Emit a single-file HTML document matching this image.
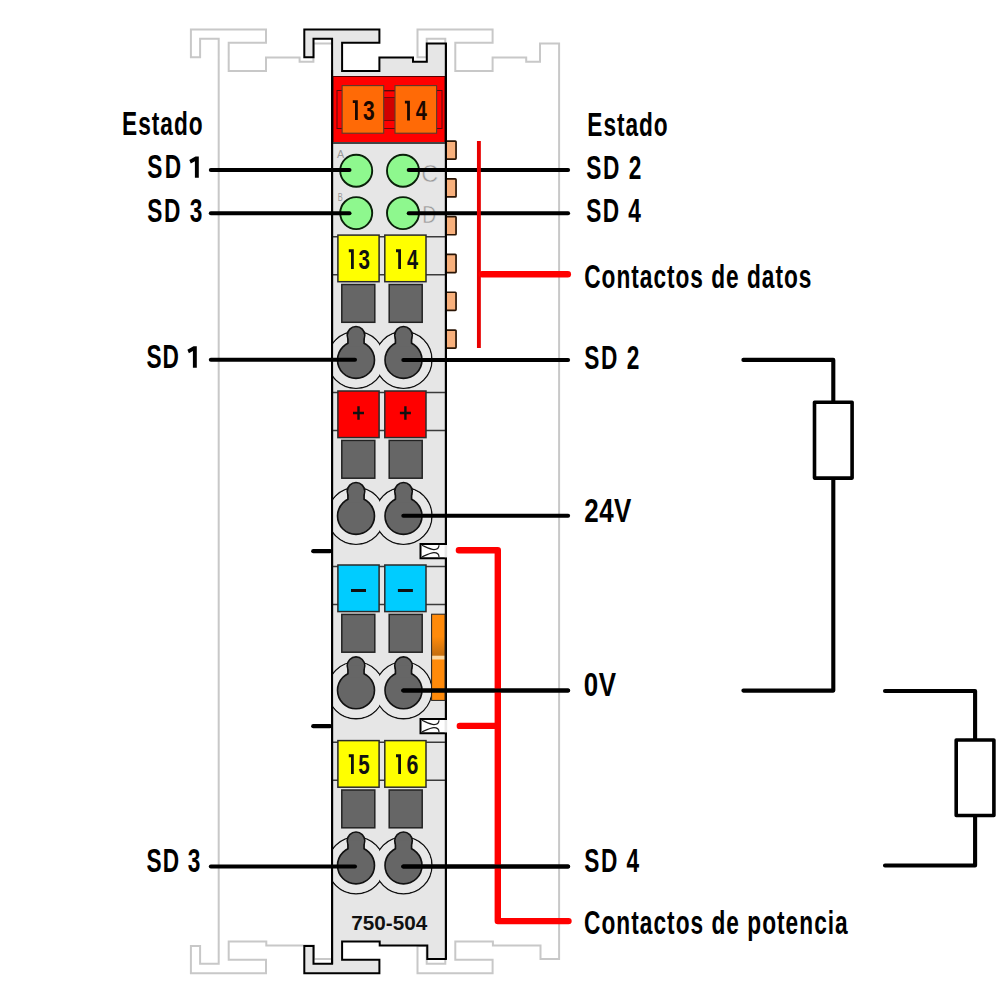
<!DOCTYPE html>
<html><head><meta charset="utf-8"><style>
html,body{margin:0;padding:0;background:#fff;}
svg{display:block;}
</style></head><body>
<svg width="1008" height="1007" viewBox="0 0 1008 1007">
<defs><linearGradient id="sl" x1="0" y1="0" x2="0" y2="1"><stop offset="0" stop-color="#ff8a0a"/><stop offset="0.26" stop-color="#ff8a0a"/><stop offset="0.46" stop-color="#c8700f"/><stop offset="0.475" stop-color="#c8700f"/><stop offset="0.49" stop-color="#ffd9a0"/><stop offset="0.515" stop-color="#ffd9a0"/><stop offset="0.535" stop-color="#ff8a0a"/><stop offset="1" stop-color="#ff8a0a"/></linearGradient><clipPath id="body"><rect x="332.1" y="40" width="113.8" height="925"/></clipPath></defs>
<rect width="1008" height="1007" fill="#fff"/>
<path d="M218.70 38.70 L200.10 38.70 L200.10 57.30 L190.90 57.30 L190.90 29.50 L266.00 29.50 L266.00 42.70 L228.70 42.70 L228.70 71.10 L266.00 71.10 L266.00 57.60 L299.60 57.60 L299.60 61.70 L313.40 61.70 L313.40 43.50 L332.50 43.50 L332.50 959.00 L313.90 959.00 L313.90 945.40 L266.30 945.40 L266.30 941.40 L228.70 941.40 L228.70 959.80 L266.00 959.80 L266.00 973.30 L190.90 973.30 L190.90 945.90 L200.10 945.90 L200.10 963.80 L218.70 963.80 Z" fill="#fff" stroke="#c8c8c8" stroke-width="2"/>
<path d="M445.30 38.70 L426.70 38.70 L426.70 57.30 L417.50 57.30 L417.50 29.50 L492.60 29.50 L492.60 42.70 L455.30 42.70 L455.30 71.10 L492.60 71.10 L492.60 57.60 L526.20 57.60 L526.20 61.70 L540.00 61.70 L540.00 43.50 L559.10 43.50 L559.10 959.00 L540.50 959.00 L540.50 945.40 L492.90 945.40 L492.90 941.40 L455.30 941.40 L455.30 959.80 L492.60 959.80 L492.60 973.30 L417.50 973.30 L417.50 945.90 L426.70 945.90 L426.70 963.80 L445.30 963.80 Z" fill="#fff" stroke="#c8c8c8" stroke-width="2"/>
<path d="M332.10 38.70 L313.50 38.70 L313.50 57.30 L304.30 57.30 L304.30 29.50 L379.40 29.50 L379.40 42.70 L342.10 42.70 L342.10 71.10 L379.40 71.10 L379.40 57.60 L413.00 57.60 L413.00 61.70 L426.80 61.70 L426.80 43.50 L445.90 43.50 L445.90 959.00 L427.30 959.00 L427.30 945.40 L379.70 945.40 L379.70 941.40 L342.10 941.40 L342.10 959.80 L379.40 959.80 L379.40 973.30 L304.30 973.30 L304.30 945.90 L313.50 945.90 L313.50 963.80 L332.10 963.80 Z" fill="#e6e6e6" stroke="#000" stroke-width="2"/>
<rect x="333.1" y="76.5" width="111.8" height="66" fill="#ff0000" stroke="#5a0000" stroke-width="1"/>
<line x1="333" y1="143" x2="445" y2="143" stroke="#444" stroke-width="2"/>
<rect x="337" y="90.5" width="105" height="38" fill="none" stroke="#5a0a0a" stroke-width="1"/>
<rect x="383.5" y="91" width="12" height="37.5" fill="#ff0000" stroke="#5a0a0a" stroke-width="0.8"/>
<rect x="383.5" y="97.5" width="12" height="23" fill="#d00000" stroke="#5a0a0a" stroke-width="0.8"/>
<rect x="342.1" y="85.6" width="41.6" height="47.6" fill="#ff6a06" stroke="#5a3a2a" stroke-width="1.1"/>
<rect x="395" y="85.6" width="41.6" height="47.6" fill="#ff6a06" stroke="#5a3a2a" stroke-width="1.1"/>
<path d="M352.80 100.20H357.80V119.90H355.00V103.10H352.80Z" fill="#1a0800"/>
<text x="362.88" y="119.60" font-size="28.5" font-weight="bold" fill="#1a0800" font-family="Liberation Sans" textLength="11.68" lengthAdjust="spacingAndGlyphs">3</text>
<path d="M404.90 100.70H409.90V120.40H407.10V103.60H404.90Z" fill="#1a0800"/>
<text x="415.80" y="120.10" font-size="28.5" font-weight="bold" fill="#1a0800" font-family="Liberation Sans" textLength="11.12" lengthAdjust="spacingAndGlyphs">4</text>
<circle cx="356.2" cy="170.7" r="16" fill="#8ef88e" stroke="#0a200a" stroke-width="1.9"/>
<circle cx="403" cy="170.7" r="16" fill="#8ef88e" stroke="#0a200a" stroke-width="1.9"/>
<circle cx="356.2" cy="213.1" r="16" fill="#8ef88e" stroke="#0a200a" stroke-width="1.9"/>
<circle cx="403" cy="213.1" r="16" fill="#8ef88e" stroke="#0a200a" stroke-width="1.9"/>
<text x="336.9" y="157.8" font-size="11" fill="#999" font-family="Liberation Sans" textLength="7.2" lengthAdjust="spacingAndGlyphs">A</text>
<text x="337.8" y="200.5" font-size="11" fill="#999" font-family="Liberation Sans" textLength="5" lengthAdjust="spacingAndGlyphs">B</text>
<text x="421.3" y="182.1" font-size="23.5" fill="#999" stroke="#e6e6e6" stroke-width="0.5" font-family="Liberation Sans">C</text>
<text x="422.2" y="223.4" font-size="23.5" fill="#999" stroke="#e6e6e6" stroke-width="0.5" font-family="Liberation Sans" textLength="14" lengthAdjust="spacingAndGlyphs">D</text>
<rect x="446" y="141.05" width="10.05" height="18.1" rx="0.8" fill="#f8b07c" stroke="#2a1505" stroke-width="1.7"/>
<rect x="446" y="178.85" width="10.05" height="18.1" rx="0.8" fill="#f8b07c" stroke="#2a1505" stroke-width="1.7"/>
<rect x="446" y="216.65" width="10.05" height="18.1" rx="0.8" fill="#f8b07c" stroke="#2a1505" stroke-width="1.7"/>
<rect x="446" y="254.45" width="10.05" height="18.1" rx="0.8" fill="#f8b07c" stroke="#2a1505" stroke-width="1.7"/>
<rect x="446" y="292.25" width="10.05" height="18.1" rx="0.8" fill="#f8b07c" stroke="#2a1505" stroke-width="1.7"/>
<rect x="446" y="330.05" width="10.05" height="18.1" rx="0.8" fill="#f8b07c" stroke="#2a1505" stroke-width="1.7"/>
<line x1="333" y1="236.70000000000002" x2="445" y2="236.70000000000002" stroke="#3a3a3a" stroke-width="1.5"/>
<line x1="333" y1="274.7" x2="445" y2="274.7" stroke="#3a3a3a" stroke-width="1.5"/>
<rect x="337.9" y="235.10000000000002" width="41.2" height="46.6" fill="#ffff00" stroke="#2a2a2a" stroke-width="1.5"/>
<path d="M348.80 249.30H353.80V269.00H351.00V252.20H348.80Z" fill="#111"/>
<text x="358.49" y="268.70" font-size="28.5" font-weight="bold" fill="#111" font-family="Liberation Sans" textLength="11.45" lengthAdjust="spacingAndGlyphs">3</text>
<rect x="384.8" y="235.10000000000002" width="41.2" height="46.6" fill="#ffff00" stroke="#2a2a2a" stroke-width="1.5"/>
<path d="M396.00 249.30H401.00V269.00H398.20V252.20H396.00Z" fill="#111"/>
<text x="406.90" y="268.70" font-size="28.5" font-weight="bold" fill="#111" font-family="Liberation Sans" textLength="11.12" lengthAdjust="spacingAndGlyphs">4</text>
<rect x="341.8" y="284.5" width="33" height="37.8" fill="#666666" stroke="#222" stroke-width="1.5"/>
<rect x="389.2" y="284.5" width="33" height="37.8" fill="#666666" stroke="#222" stroke-width="1.5"/>
<g clip-path="url(#body)">
<circle cx="356" cy="359.9" r="28.4" fill="#e8e8e8" stroke="#111" stroke-width="1.4"/>
<circle cx="403.5" cy="359.9" r="28.4" fill="#e8e8e8" stroke="#111" stroke-width="1.4"/>
<circle cx="356" cy="359.9" r="27.75" fill="#e8e8e8"/>
<circle cx="403.5" cy="359.9" r="27.75" fill="#e8e8e8"/>
</g>
<g stroke="#111" stroke-width="1.6"><circle cx="356" cy="359.9" r="18.5"/><circle cx="356" cy="335.29999999999995" r="8.8"/><path d="M347.9 335.29999999999995L347.9 346.9H364.1L364.1 335.29999999999995Z"/></g>
<g stroke="#111" stroke-width="1.6"><circle cx="403.5" cy="359.9" r="18.5"/><circle cx="403.5" cy="335.29999999999995" r="8.8"/><path d="M395.4 335.29999999999995L395.4 346.9H411.6L411.6 335.29999999999995Z"/></g>
<g fill="#666666"><circle cx="356" cy="359.9" r="17.7"/><circle cx="356" cy="335.29999999999995" r="8"/><path d="M348.7 335.29999999999995L348.7 346.9H363.3L363.3 335.29999999999995Z"/></g>
<g fill="#666666"><circle cx="403.5" cy="359.9" r="17.7"/><circle cx="403.5" cy="335.29999999999995" r="8"/><path d="M396.2 335.29999999999995L396.2 346.9H410.8L410.8 335.29999999999995Z"/></g>
<line x1="333" y1="392.59999999999997" x2="445" y2="392.59999999999997" stroke="#3a3a3a" stroke-width="1.5"/>
<line x1="333" y1="430.59999999999997" x2="445" y2="430.59999999999997" stroke="#3a3a3a" stroke-width="1.5"/>
<rect x="337.9" y="391.0" width="41.2" height="46.6" fill="#ff0000" stroke="#2a2a2a" stroke-width="1.5"/>
<path d="M353.0 413.0H364.0M358.5 406.2V419.7" stroke="#111" stroke-width="2.4"/>
<rect x="384.8" y="391.0" width="41.2" height="46.6" fill="#ff0000" stroke="#2a2a2a" stroke-width="1.5"/>
<path d="M399.90000000000003 413.0H410.90000000000003M405.40000000000003 406.2V419.7" stroke="#111" stroke-width="2.4"/>
<rect x="341.8" y="440.4" width="33" height="37.8" fill="#666666" stroke="#222" stroke-width="1.5"/>
<rect x="389.2" y="440.4" width="33" height="37.8" fill="#666666" stroke="#222" stroke-width="1.5"/>
<g clip-path="url(#body)">
<circle cx="356" cy="515.9" r="28.4" fill="#e8e8e8" stroke="#111" stroke-width="1.4"/>
<circle cx="403.5" cy="515.9" r="28.4" fill="#e8e8e8" stroke="#111" stroke-width="1.4"/>
<circle cx="356" cy="515.9" r="27.75" fill="#e8e8e8"/>
<circle cx="403.5" cy="515.9" r="27.75" fill="#e8e8e8"/>
</g>
<g stroke="#111" stroke-width="1.6"><circle cx="356" cy="515.9" r="18.5"/><circle cx="356" cy="491.29999999999995" r="8.8"/><path d="M347.9 491.29999999999995L347.9 502.9H364.1L364.1 491.29999999999995Z"/></g>
<g stroke="#111" stroke-width="1.6"><circle cx="403.5" cy="515.9" r="18.5"/><circle cx="403.5" cy="491.29999999999995" r="8.8"/><path d="M395.4 491.29999999999995L395.4 502.9H411.6L411.6 491.29999999999995Z"/></g>
<g fill="#666666"><circle cx="356" cy="515.9" r="17.7"/><circle cx="356" cy="491.29999999999995" r="8"/><path d="M348.7 491.29999999999995L348.7 502.9H363.3L363.3 491.29999999999995Z"/></g>
<g fill="#666666"><circle cx="403.5" cy="515.9" r="17.7"/><circle cx="403.5" cy="491.29999999999995" r="8"/><path d="M396.2 491.29999999999995L396.2 502.9H410.8L410.8 491.29999999999995Z"/></g>
<line x1="333" y1="566.6" x2="445" y2="566.6" stroke="#3a3a3a" stroke-width="1.5"/>
<line x1="333" y1="604.6" x2="445" y2="604.6" stroke="#3a3a3a" stroke-width="1.5"/>
<rect x="337.9" y="565.0" width="41.2" height="46.6" fill="#00ccff" stroke="#2a2a2a" stroke-width="1.5"/>
<path d="M351.0 590.5H366.0" stroke="#111" stroke-width="3"/>
<rect x="384.8" y="565.0" width="41.2" height="46.6" fill="#00ccff" stroke="#2a2a2a" stroke-width="1.5"/>
<path d="M397.90000000000003 590.5H412.90000000000003" stroke="#111" stroke-width="3"/>
<rect x="341.8" y="614.4000000000001" width="33" height="37.8" fill="#666666" stroke="#222" stroke-width="1.5"/>
<rect x="389.2" y="614.4000000000001" width="33" height="37.8" fill="#666666" stroke="#222" stroke-width="1.5"/>
<g clip-path="url(#body)">
<circle cx="356" cy="690.3" r="28.4" fill="#e8e8e8" stroke="#111" stroke-width="1.4"/>
<circle cx="403.5" cy="690.3" r="28.4" fill="#e8e8e8" stroke="#111" stroke-width="1.4"/>
<circle cx="356" cy="690.3" r="27.75" fill="#e8e8e8"/>
<circle cx="403.5" cy="690.3" r="27.75" fill="#e8e8e8"/>
</g>
<g stroke="#111" stroke-width="1.6"><circle cx="356" cy="690.3" r="18.5"/><circle cx="356" cy="665.6999999999999" r="8.8"/><path d="M347.9 665.6999999999999L347.9 677.3H364.1L364.1 665.6999999999999Z"/></g>
<g stroke="#111" stroke-width="1.6"><circle cx="403.5" cy="690.3" r="18.5"/><circle cx="403.5" cy="665.6999999999999" r="8.8"/><path d="M395.4 665.6999999999999L395.4 677.3H411.6L411.6 665.6999999999999Z"/></g>
<g fill="#666666"><circle cx="356" cy="690.3" r="17.7"/><circle cx="356" cy="665.6999999999999" r="8"/><path d="M348.7 665.6999999999999L348.7 677.3H363.3L363.3 665.6999999999999Z"/></g>
<g fill="#666666"><circle cx="403.5" cy="690.3" r="17.7"/><circle cx="403.5" cy="665.6999999999999" r="8"/><path d="M396.2 665.6999999999999L396.2 677.3H410.8L410.8 665.6999999999999Z"/></g>
<line x1="333" y1="742.1999999999999" x2="445" y2="742.1999999999999" stroke="#3a3a3a" stroke-width="1.5"/>
<line x1="333" y1="780.1999999999999" x2="445" y2="780.1999999999999" stroke="#3a3a3a" stroke-width="1.5"/>
<rect x="337.9" y="740.5999999999999" width="41.2" height="46.6" fill="#ffff00" stroke="#2a2a2a" stroke-width="1.5"/>
<path d="M348.80 754.30H353.80V774.00H351.00V757.20H348.80Z" fill="#111"/>
<text x="358.28" y="773.70" font-size="28.5" font-weight="bold" fill="#111" font-family="Liberation Sans" textLength="11.45" lengthAdjust="spacingAndGlyphs">5</text>
<rect x="384.8" y="740.5999999999999" width="41.2" height="46.6" fill="#ffff00" stroke="#2a2a2a" stroke-width="1.5"/>
<path d="M396.00 754.30H401.00V774.00H398.20V757.20H396.00Z" fill="#111"/>
<text x="406.46" y="773.70" font-size="28.5" font-weight="bold" fill="#111" font-family="Liberation Sans" textLength="11.91" lengthAdjust="spacingAndGlyphs">6</text>
<rect x="341.8" y="790.0" width="33" height="37.8" fill="#666666" stroke="#222" stroke-width="1.5"/>
<rect x="389.2" y="790.0" width="33" height="37.8" fill="#666666" stroke="#222" stroke-width="1.5"/>
<g clip-path="url(#body)">
<circle cx="356" cy="865.4" r="28.4" fill="#e8e8e8" stroke="#111" stroke-width="1.4"/>
<circle cx="403.5" cy="865.4" r="28.4" fill="#e8e8e8" stroke="#111" stroke-width="1.4"/>
<circle cx="356" cy="865.4" r="27.75" fill="#e8e8e8"/>
<circle cx="403.5" cy="865.4" r="27.75" fill="#e8e8e8"/>
</g>
<g stroke="#111" stroke-width="1.6"><circle cx="356" cy="865.4" r="18.5"/><circle cx="356" cy="840.8" r="8.8"/><path d="M347.9 840.8L347.9 852.4H364.1L364.1 840.8Z"/></g>
<g stroke="#111" stroke-width="1.6"><circle cx="403.5" cy="865.4" r="18.5"/><circle cx="403.5" cy="840.8" r="8.8"/><path d="M395.4 840.8L395.4 852.4H411.6L411.6 840.8Z"/></g>
<g fill="#666666"><circle cx="356" cy="865.4" r="17.7"/><circle cx="356" cy="840.8" r="8"/><path d="M348.7 840.8L348.7 852.4H363.3L363.3 840.8Z"/></g>
<g fill="#666666"><circle cx="403.5" cy="865.4" r="17.7"/><circle cx="403.5" cy="840.8" r="8"/><path d="M396.2 840.8L396.2 852.4H410.8L410.8 840.8Z"/></g>
<line x1="332.1" y1="70" x2="332.1" y2="964" stroke="#000" stroke-width="2"/>
<line x1="445.9" y1="43" x2="445.9" y2="959" stroke="#000" stroke-width="2"/>
<path d="M447 544.0H420.5V558.2H447" fill="#fff" stroke="#000" stroke-width="2"/>
<rect x="444.6" y="545.0" width="2.6" height="12.2" fill="#e8e8e8"/>
<path d="M422 545.3 C428 548.0 431 549.6 434 549.6 C437.5 549.6 439 547.6 439 545.3 M422 556.9 C428 554.2 431 552.7 434 552.7 C437.5 552.7 439 554.7 439 556.9" fill="none" stroke="#1a1a1a" stroke-width="1.2"/>
<path d="M447 719.0H420.5V733.2H447" fill="#fff" stroke="#000" stroke-width="2"/>
<rect x="444.6" y="720.0" width="2.6" height="12.2" fill="#e8e8e8"/>
<path d="M422 720.3 C428 723.0 431 724.6 434 724.6 C437.5 724.6 439 722.6 439 720.3 M422 731.9 C428 729.2 431 727.7 434 727.7 C437.5 727.7 439 729.7 439 731.9" fill="none" stroke="#1a1a1a" stroke-width="1.2"/>
<rect x="431.6" y="614.2" width="13.4" height="86.2" fill="url(#sl)" stroke="#222" stroke-width="1"/>
<text x="351.2" y="930" font-size="20.7" font-weight="bold" fill="#111" font-family="Liberation Sans" textLength="76" lengthAdjust="spacingAndGlyphs">750-504</text>
<line x1="210.8" y1="170" x2="349.5" y2="170" stroke="#000" stroke-width="4" stroke-linecap="round"/>
<line x1="210.8" y1="213.2" x2="349.5" y2="213.2" stroke="#000" stroke-width="4" stroke-linecap="round"/>
<line x1="210.8" y1="359.7" x2="355" y2="359.7" stroke="#000" stroke-width="4" stroke-linecap="round"/>
<line x1="210.8" y1="866.5" x2="355" y2="866.5" stroke="#000" stroke-width="4" stroke-linecap="round"/>
<line x1="408.7" y1="170" x2="568.1" y2="170" stroke="#000" stroke-width="4" stroke-linecap="round"/>
<line x1="408.7" y1="213.3" x2="568.1" y2="213.3" stroke="#000" stroke-width="4" stroke-linecap="round"/>
<line x1="403.3" y1="359.9" x2="568.1" y2="359.9" stroke="#000" stroke-width="4" stroke-linecap="round"/>
<line x1="403.3" y1="515.7" x2="568.1" y2="515.7" stroke="#000" stroke-width="4" stroke-linecap="round"/>
<line x1="403.3" y1="690.5" x2="568.1" y2="690.5" stroke="#000" stroke-width="4" stroke-linecap="round"/>
<line x1="403.3" y1="866.6" x2="568.1" y2="866.6" stroke="#000" stroke-width="4" stroke-linecap="round"/>
<line x1="313.3" y1="551.2" x2="330" y2="551.2" stroke="#000" stroke-width="4.3" stroke-linecap="round"/>
<line x1="313.3" y1="726.2" x2="330" y2="726.2" stroke="#000" stroke-width="4.3" stroke-linecap="round"/>
<line x1="478.9" y1="141.1" x2="478.9" y2="348" stroke="#e80000" stroke-width="3.9"/>
<line x1="482" y1="274.2" x2="567.8" y2="274.2" stroke="#ff0000" stroke-linecap="round" fill="none" stroke-width="6.5"/>
<path d="M458.9 550.3H497.8V921.1H568.5" stroke="#ff0000" stroke-linecap="round" fill="none" stroke-width="6.4" stroke-linejoin="round"/>
<line x1="459.8" y1="725.9" x2="497.8" y2="725.9" stroke="#ff0000" stroke-linecap="round" fill="none" stroke-width="6.4"/>
<line x1="403.3" y1="690.5" x2="568.1" y2="690.5" stroke="#000" stroke-width="4" stroke-linecap="round"/>
<line x1="403.3" y1="866.6" x2="568.1" y2="866.6" stroke="#000" stroke-width="4" stroke-linecap="round"/>
<path d="M743.4 359.9H833.3V690.6H743.4" fill="none" stroke="#000" stroke-width="4.1" stroke-linecap="round" stroke-linejoin="round"/>
<rect x="814.5" y="402.2" width="37.6" height="75.9" fill="#fff" stroke="#000" stroke-width="3.6" stroke-linejoin="round"/>
<path d="M885 691H975.1V865.5H885" fill="none" stroke="#000" stroke-width="4.1" stroke-linecap="round" stroke-linejoin="round"/>
<rect x="956.2" y="740" width="37.7" height="75.5" fill="#fff" stroke="#000" stroke-width="3.6" stroke-linejoin="round"/>
<text transform="translate(122.06,134.70) scale(0.7,1)" font-size="32.4" font-weight="bold" fill="#000" font-family="Liberation Sans" letter-spacing="1.414">Estado</text>
<text transform="translate(147.30,177.50) scale(0.7,1)" font-size="32.4" font-weight="bold" fill="#000" font-family="Liberation Sans" letter-spacing="3.257">SD</text>
<path d="M189.30 159.90L195.50 156.50H198.80V177.80H194.90V161.30L190.80 163.40Z" fill="#000"/>
<text transform="translate(147.30,221.80) scale(0.7,1)" font-size="32.4" font-weight="bold" fill="#000" font-family="Liberation Sans" letter-spacing="2.162">SD 3</text>
<text transform="translate(146.40,367.70) scale(0.7,1)" font-size="32.4" font-weight="bold" fill="#000" font-family="Liberation Sans" letter-spacing="1.543">SD</text>
<path d="M187.40 349.65L193.50 346.25H196.80V367.70H192.90V351.05L188.90 353.15Z" fill="#000"/>
<text transform="translate(146.60,871.50) scale(0.7,1)" font-size="32.4" font-weight="bold" fill="#000" font-family="Liberation Sans" letter-spacing="1.638">SD 3</text>
<text transform="translate(587.36,135.70) scale(0.7,1)" font-size="32.4" font-weight="bold" fill="#000" font-family="Liberation Sans" letter-spacing="1.357">Estado</text>
<text transform="translate(586.30,178.70) scale(0.7,1)" font-size="32.4" font-weight="bold" fill="#000" font-family="Liberation Sans" letter-spacing="2.195">SD 2</text>
<text transform="translate(586.30,221.60) scale(0.7,1)" font-size="32.4" font-weight="bold" fill="#000" font-family="Liberation Sans" letter-spacing="2.019">SD 4</text>
<text transform="translate(584.19,287.70) scale(0.7,1)" font-size="32.4" font-weight="bold" fill="#000" font-family="Liberation Sans" letter-spacing="1.420">Contactos de datos</text>
<text transform="translate(584.30,369.10) scale(0.7,1)" font-size="32.4" font-weight="bold" fill="#000" font-family="Liberation Sans" letter-spacing="2.195">SD 2</text>
<text transform="translate(584.22,521.80) scale(0.8,1)" font-size="32.4" font-weight="bold" fill="#000" font-family="Liberation Sans" letter-spacing="0.663">24V</text>
<text transform="translate(583.86,696.30) scale(0.8,1)" font-size="32.4" font-weight="bold" fill="#000" font-family="Liberation Sans" letter-spacing="0.650">0V</text>
<text transform="translate(584.30,871.80) scale(0.7,1)" font-size="32.4" font-weight="bold" fill="#000" font-family="Liberation Sans" letter-spacing="2.114">SD 4</text>
<text transform="translate(584.09,933.60) scale(0.7,1)" font-size="32.4" font-weight="bold" fill="#000" font-family="Liberation Sans" letter-spacing="1.464">Contactos de potencia</text>
</svg>
</body></html>
